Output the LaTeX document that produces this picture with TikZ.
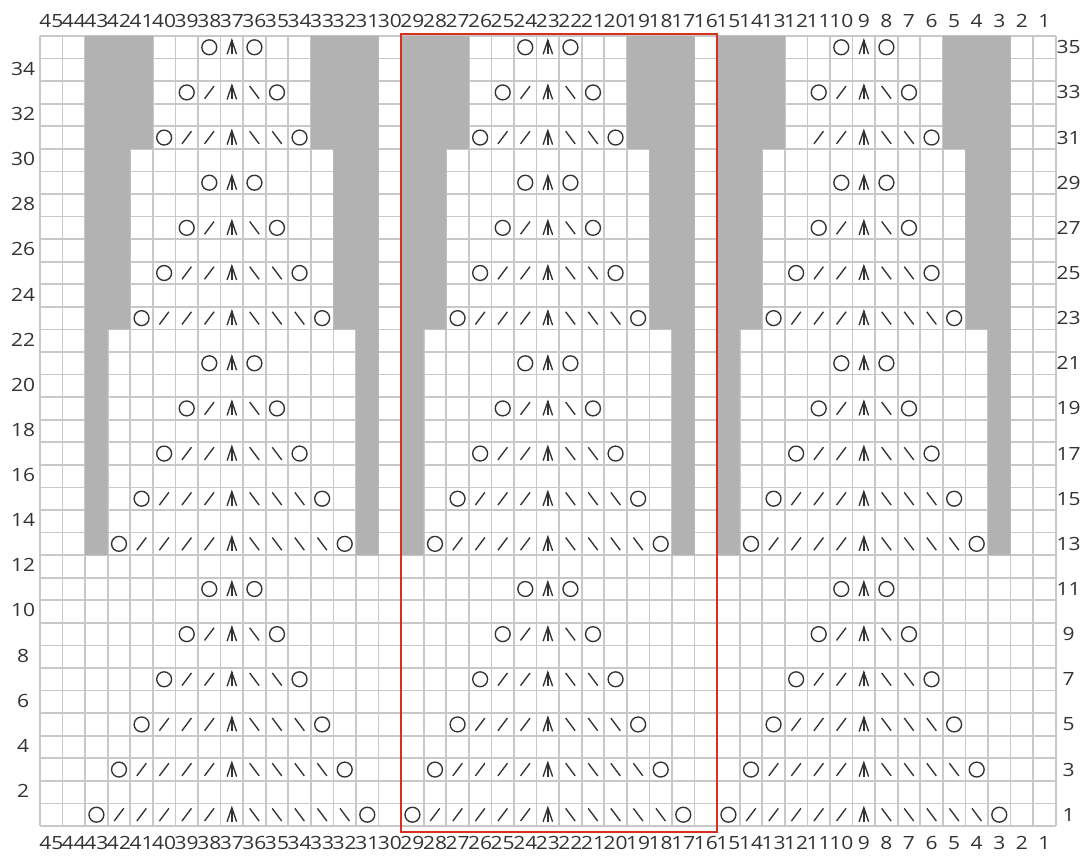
\documentclass[tikz,border=0pt]{standalone}
\usepackage{fontspec}
\setmainfont{Open Sans}[FakeStretch=1.15]
\definecolor{gridc}{HTML}{C8C8C8}
\definecolor{grayfill}{HTML}{B2B2B2}
\definecolor{symc}{HTML}{333333}
\definecolor{redc}{HTML}{D8301E}
\definecolor{txtc}{HTML}{333333}
\tikzset{
  sym/.style={draw=symc,line width=0.85pt},
  lbl/.style={text=txtc,font=\fontsize{11.5}{13}\selectfont,inner sep=0pt},
  gridline/.style={draw=gridc,line width=1pt},
  shade/.style={fill=grayfill},
  frame/.style={draw=redc,line width=1.3pt},
  yo/.pic={\draw[sym] (0,0) circle (0.33);},
  kl/.pic={\draw[sym] (-0.21,-0.28) -- (0.21,0.28);},
  kr/.pic={\draw[sym] (-0.21,0.28) -- (0.21,-0.28);},
  cdd/.pic={\draw[sym,line join=miter] (-0.21,-0.31) -- (0,0.31) -- (0.21,-0.31); \draw[sym] (0,0.31) -- (0,-0.31);}
}
\begin{document}
\begin{tikzpicture}[x=0.5cm,y=0.5cm]
\useasboundingbox (-1.772,-1.33) rectangle (46.254,36.595);
\fill[white] (-1.772,-1.33) rectangle (46.254,36.595);
% grid
\foreach \i in {0,...,45} { \draw[gridline] (\i,0) -- (\i,35); }
\foreach \i in {0,...,35} { \draw[gridline] (0,\i) -- (45,\i); }
% gray bars
\foreach \cz in {37,23,9} {
  \pgfmathsetmacro\xl{39-\cz}
  \pgfmathsetmacro\xr{52-\cz}
  \fill[shade] (\xl,12) -- (\xl+1,12) -- (\xl+1,22) -- (\xl+2,22) -- (\xl+2,30) -- (\xl+3,30) -- (\xl+3,35) -- (\xl,35) -- cycle;
  \fill[shade] (\xr,12) -- (\xr-1,12) -- (\xr-1,22) -- (\xr-2,22) -- (\xr-2,30) -- (\xr-3,30) -- (\xr-3,35) -- (\xr,35) -- cycle;
}
% symbols
\foreach \cz in {37,23,9} {
  \foreach \r/\n in {1/6,3/5,5/4,7/3,9/2,11/1,13/5,15/4,17/3,19/2,21/1,23/4,25/3,27/2,29/1,31/3,33/2,35/1} {
    \pgfmathsetmacro\xc{45.5-\cz}
    \pic at (\xc,\r-0.5) {cdd};
    \pic at (\xc+\n,\r-0.5) {yo};
    \ifnum\numexpr\r*100+\cz\relax=3109 \else
      \pic at (\xc-\n,\r-0.5) {yo};
    \fi
    \foreach \j in {1,...,5} {
      \ifnum\j<\n
        \pic at (\xc-\j,\r-0.5) {kl};
        \pic at (\xc+\j,\r-0.5) {kr};
      \fi
    }
  }
}
% red frame
\draw[frame] (16,-0.25) rectangle (30,35.07);
% column numbers
\foreach \c in {1,...,45} {
  \node[lbl] (top\c) at (45.5-\c,35.66) {\c};
  \node[lbl] (bot\c) at (45.5-\c,-0.76) {\c};
}
% row numbers
\foreach \r in {2,4,...,34} {
  \node[lbl] (left\r) at (-0.75,\r-0.45) {\r};
}
\foreach \r in {1,3,...,35} {
  \node[lbl] (right\r) at (45.57,\r-0.5) {\r};
}
\end{tikzpicture}
\end{document}
